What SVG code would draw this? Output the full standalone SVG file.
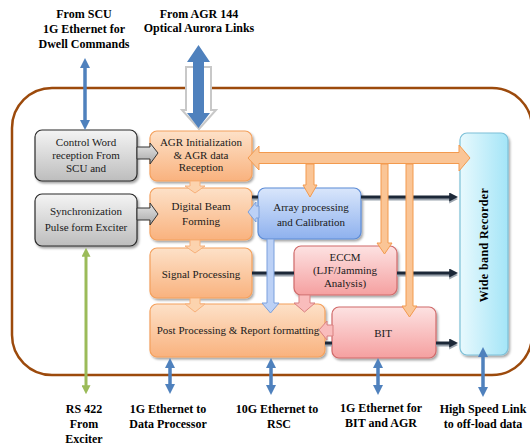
<svg xmlns="http://www.w3.org/2000/svg" width="530" height="445" viewBox="0 0 530 445">
  <defs>
    <linearGradient id="gOrange" x1="0" y1="0" x2="0" y2="1">
      <stop offset="0" stop-color="#fde1c8"/>
      <stop offset="1" stop-color="#f9b27e"/>
    </linearGradient>
    <linearGradient id="gGray" x1="0" y1="0" x2="0" y2="1">
      <stop offset="0" stop-color="#f4f4f4"/>
      <stop offset="1" stop-color="#bdbdbd"/>
    </linearGradient>
    <linearGradient id="gBlue" x1="0" y1="0" x2="0" y2="1">
      <stop offset="0" stop-color="#d9e6fb"/>
      <stop offset="1" stop-color="#8eb1ee"/>
    </linearGradient>
    <linearGradient id="gPink" x1="0" y1="0" x2="0" y2="1">
      <stop offset="0" stop-color="#fde2e2"/>
      <stop offset="1" stop-color="#f5a0a0"/>
    </linearGradient>
    <linearGradient id="gRec" x1="0" y1="0" x2="1" y2="0">
      <stop offset="0" stop-color="#e8f9fd"/>
      <stop offset="1" stop-color="#a4e5f7"/>
    </linearGradient>
    <linearGradient id="gGrayArrow" x1="0" y1="0" x2="0" y2="1">
      <stop offset="0" stop-color="#e6e6e6"/>
      <stop offset="1" stop-color="#a8a8a8"/>
    </linearGradient>
    <filter id="shadow" x="-10%" y="-10%" width="130%" height="130%">
      <feDropShadow dx="1.5" dy="2" stdDeviation="1.2" flood-color="#000" flood-opacity="0.35"/>
    </filter>
    <marker id="mBlue" viewBox="0 0 10 10" refX="2" refY="5" markerWidth="10" markerHeight="10" markerUnits="userSpaceOnUse" orient="auto-start-reverse">
      <path d="M0,0 L10,5 L0,10 Z" fill="#4f81bd"/>
    </marker>
    <marker id="mGreen" viewBox="0 0 10 10" refX="2" refY="5" markerWidth="9" markerHeight="9" markerUnits="userSpaceOnUse" orient="auto-start-reverse">
      <path d="M0,0 L10,5 L0,10 Z" fill="#9bbb59"/>
    </marker>
    <marker id="mDark" viewBox="0 0 10 10" refX="2" refY="5" markerWidth="9" markerHeight="9" markerUnits="userSpaceOnUse" orient="auto">
      <path d="M0,0 L10,5 L0,10 Z" fill="#1c2838"/>
    </marker>
    <marker id="mShade" viewBox="0 0 10 10" refX="2" refY="5" markerWidth="9" markerHeight="9" markerUnits="userSpaceOnUse" orient="auto">
      <path d="M0,0 L10,5 L0,10 Z" fill="#9aa3ad"/>
    </marker>
    <style>
      .box { stroke-width: 1.2; filter: url(#shadow); }
      .orange { fill: url(#gOrange); stroke: #f4a05c; }
      .gray { fill: url(#gGray); stroke: #2b2b2b; }
      .blue { fill: url(#gBlue); stroke: #5b8bd6; }
      .pink { fill: url(#gPink); stroke: #d06a6a; }
      .rec { fill: url(#gRec); stroke: #7cc0d8; }
      .t { font-family: "Liberation Serif", "Times New Roman", serif; font-size: 11px; fill: #1a1a1a; text-anchor: middle; }
      .lbl { font-family: "Liberation Serif", "Times New Roman", serif; font-size: 12px; font-weight: bold; fill: #000; text-anchor: middle; }
      .thin { stroke: #4f81bd; stroke-width: 3.5; fill: none; marker-start: url(#mBlue); marker-end: url(#mBlue); }
      .dark { stroke: #1c2838; stroke-width: 3; fill: none; }
      .shade { stroke: #9aa3ad; stroke-width: 3; fill: none; }
      .barO { fill: #fac596; stroke: #f39a4e; stroke-width: 1; }
      .stepO { fill: #fcd3ae; stroke: #f7b07a; stroke-width: 1; }
      .arrG { fill: url(#gGrayArrow); stroke: #333; stroke-width: 1; }
      .arrB { fill: #bcd1f6; stroke: #7a9fdc; stroke-width: 1; }
      .arrP { fill: #f9bcbc; stroke: #d98080; stroke-width: 1; }
    </style>
  </defs>

  <rect width="530" height="445" fill="#fff"/>

  <!-- system boundary -->
  <rect x="12" y="88" width="520" height="287" rx="40" ry="40" fill="none" stroke="#9c4a0c" stroke-width="2.5"/>

  <!-- hollow outline arrow behind the optical link -->
  <polygon points="186,67 211,67 211,110 216,110 199,129 182,110 186,110" fill="#fff" stroke="#c8c8c8" stroke-width="2"/>

  <g id="n-control">
    <rect class="box gray" x="35" y="130" width="102" height="51" rx="7"/>
    <text class="t" x="86" y="146" font-size="11.5">Control Word</text>
    <text class="t" x="86" y="159" font-size="10.5">reception From</text>
    <text class="t" x="86" y="172" font-size="12">SCU and</text>
  </g>
  <g id="n-sync">
    <rect class="box gray" x="35" y="194" width="102" height="52" rx="7"/>
    <text class="t" x="86" y="215">Synchronization</text>
    <text class="t" x="86" y="231" font-size="10.5">Pulse form Exciter</text>
  </g>
  <g id="n-agr">
    <rect class="box orange" x="150" y="131" width="102" height="50" rx="7"/>
    <text class="t" x="201" y="146">AGR Initialization</text>
    <text class="t" x="201" y="159" font-size="10">&amp; AGR data</text>
    <text class="t" x="201" y="171">Reception</text>
  </g>
  <g id="n-dbf">
    <rect class="box orange" x="150" y="188" width="102" height="52" rx="7"/>
    <text class="t" x="201" y="210">Digital Beam</text>
    <text class="t" x="201" y="225">Forming</text>
  </g>
  <g id="n-signal">
    <rect class="box orange" x="150" y="248" width="102" height="50" rx="7"/>
    <text class="t" x="201" y="278">Signal Processing</text>
  </g>
  <g id="n-post">
    <rect class="box orange" x="150" y="304" width="175" height="53" rx="7"/>
    <text class="t" x="238" y="334">Post Processing &amp; Report formatting</text>
  </g>
  <g id="n-array">
    <rect class="box blue" x="258" y="188" width="103" height="51" rx="7"/>
    <text class="t" x="311" y="211" font-size="10.5">Array processing</text>
    <text class="t" x="311" y="226" font-size="10.5">and Calibration</text>
  </g>
  <g id="n-eccm">
    <rect class="box pink" x="294" y="246" width="103" height="49" rx="7"/>
    <text class="t" x="345" y="261">ECCM</text>
    <text class="t" x="345" y="274" font-size="10.5">(LJF/Jamming</text>
    <text class="t" x="345" y="287">Analysis)</text>
  </g>
  <g id="n-bit">
    <rect class="box pink" x="332" y="307" width="104" height="51" rx="7"/>
    <text class="t" x="383" y="337" font-size="12">BIT</text>
  </g>
  <g id="n-recorder">
    <rect class="box rec" x="460" y="133" width="48" height="222" rx="7"/>
    <text class="lbl" transform="translate(488,245) rotate(-90)" font-size="13" letter-spacing="0.4">Wide band Recorder</text>
  </g>

  <g id="connectors">
    <!-- data outputs to recorder -->
    <line class="shade" x1="252" y1="199" x2="258" y2="199"/>
    <line class="dark" x1="252" y1="197" x2="258" y2="197"/>
    <line class="shade" x1="361" y1="199" x2="451" y2="199" marker-end="url(#mShade)"/>
    <line class="dark" x1="361" y1="197" x2="451" y2="197" marker-end="url(#mDark)"/>
    <line class="shade" x1="252" y1="275" x2="294" y2="275"/>
    <line class="dark" x1="252" y1="273" x2="294" y2="273"/>
    <line class="shade" x1="397" y1="275" x2="451" y2="275" marker-end="url(#mShade)"/>
    <line class="dark" x1="397" y1="273" x2="451" y2="273" marker-end="url(#mDark)"/>
    <line class="shade" x1="325" y1="345" x2="332" y2="345"/>
    <line class="dark" x1="325" y1="343" x2="332" y2="343"/>
    <line class="shade" x1="436" y1="345" x2="451" y2="345" marker-end="url(#mShade)"/>
    <line class="dark" x1="436" y1="343" x2="451" y2="343" marker-end="url(#mDark)"/>

    <!-- raw data bus from AGR reception -->
    <path class="barO" d="M248,158 L259,146 L259,152.5 L459,152.5 L459,145 L470,158 L459,171 L459,163.5 L259,163.5 L259,170 Z"/>
    <path class="barO" d="M306,164 L314,164 L314,185 L317,185 L310,197 L303,185 L306,185 Z"/>
    <path class="barO" d="M381,164 L388,164 L388,243 L392,243 L384.5,254 L377,243 L381,243 Z"/>
    <path class="barO" d="M406,164 L413,164 L413,306 L417,306 L409.5,317 L402,306 L406,306 Z"/>

    <!-- processing chain -->
    <path class="stepO" d="M190,181 L200,181 L200,186 L205,186 L195,193 L185,186 L190,186 Z"/>
    <path class="stepO" d="M190,240 L200,240 L200,246 L205,246 L195,253 L185,246 L190,246 Z"/>
    <path class="stepO" d="M190,298 L200,298 L200,304 L205,304 L195,312 L185,304 L190,304 Z"/>

    <!-- control inputs -->
    <path class="arrG" d="M137,147 L150,147 L150,143 L158,153 L150,164 L150,159 L137,159 Z"/>
    <path class="arrG" d="M137,208 L150,208 L150,203 L158,214 L150,225 L150,220 L137,220 Z"/>

    <!-- calibration feedback -->
    <path class="arrB" d="M248,212 L256,202 L256,206 L259,206 L259,218 L256,218 L256,222 Z"/>
    <path class="arrB" d="M267,239 L274,239 L274,303 L279,303 L270.5,313 L262,303 L267,303 Z"/>

    <!-- ECCM and BIT reports -->
    <path class="arrP" d="M299,295 L310,295 L310,303 L315,303 L304.5,312 L294,303 L299,303 Z"/>
    <path class="arrP" d="M319,330 L327,321 L327,325 L333,325 L333,336 L327,336 L327,340 Z"/>

    <!-- external links -->
    <line class="thin" x1="85" y1="66" x2="85" y2="122"/>
    <path d="M198.5,45 L210,62 L204,62 L204,113 L210,113 L198.5,128 L187,113 L193,113 L193,62 L187,62 Z" fill="#4f81bd"/>
    <line x1="86" y1="255" x2="86" y2="387" stroke="#9bbb59" stroke-width="3" marker-start="url(#mGreen)" marker-end="url(#mGreen)"/>
    <line class="thin" x1="170" y1="366" x2="170" y2="386"/>
    <line class="thin" x1="271" y1="366" x2="271" y2="387"/>
    <line class="thin" x1="378" y1="366" x2="378" y2="387"/>
    <line class="thin" x1="483" y1="355" x2="483" y2="389"/>
  </g>

  <!-- interface labels -->
  <g id="labels">
    <text class="lbl" x="84" y="18">From SCU</text>
    <text class="lbl" x="84" y="33">1G Ethernet for</text>
    <text class="lbl" x="84" y="48">Dwell Commands</text>
    <text class="lbl" x="199" y="18">From AGR 144</text>
    <text class="lbl" x="199" y="32">Optical Aurora Links</text>
    <text class="lbl" x="84" y="413">RS 422</text>
    <text class="lbl" x="84" y="428">From</text>
    <text class="lbl" x="84" y="443">Exciter</text>
    <text class="lbl" x="168" y="413">1G Ethernet to</text>
    <text class="lbl" x="168" y="428">Data Processor</text>
    <text class="lbl" x="277" y="413">10G Ethernet to</text>
    <text class="lbl" x="279" y="428">RSC</text>
    <text class="lbl" x="381" y="412">1G Ethernet for</text>
    <text class="lbl" x="381" y="427">BIT and AGR</text>
    <text class="lbl" x="483" y="413">High Speed Link</text>
    <text class="lbl" x="483" y="428">to off-load data</text>
  </g>
</svg>
